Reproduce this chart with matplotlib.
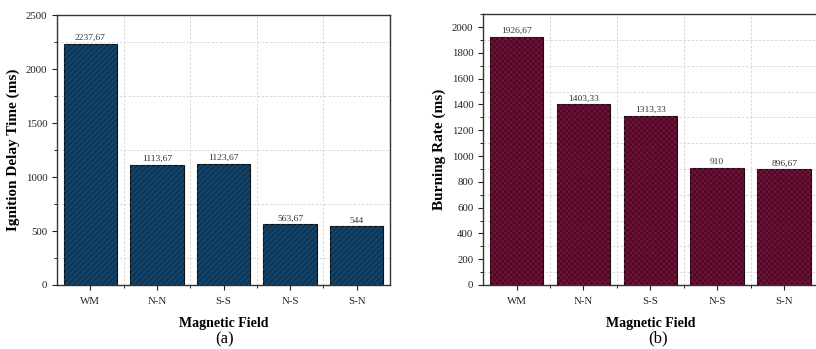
import matplotlib.pyplot as plt
from matplotlib.ticker import MultipleLocator, FixedLocator

fields = ['WM', 'N-N', 'S-S', 'N-S', 'S-N']
ignition = [2237.67, 1113.67, 1123.67, 563.67, 544]
ignition_txt = ['2237,67', '1113,67', '1123,67', '563,67', '544']
burning = [1926.67, 1403.33, 1313.33, 910, 896.67]
burning_txt = ['1926,67', '1403,33', '1313,33', '910', '896,67']

plt.rcParams['font.family'] = ['Liberation Serif', 'DejaVu Serif']
plt.rcParams['hatch.linewidth'] = 0.6

fig = plt.figure(figsize=(8.16, 3.49), dpi=100)


def panel(rect, vals, txt, fill, hatch_col, hatch, ylim, major, minor_grid, ylabel):
    ax = fig.add_axes(rect)
    x = range(len(fields))
    ax.bar(x, vals, width=0.8, color=fill, edgecolor='#111111', linewidth=0.8, zorder=2)
    ax.bar(x, vals, width=0.8, color='none', edgecolor=hatch_col, hatch=hatch,
           linewidth=0, zorder=3)
    for i, v in enumerate(vals):
        ax.text(i, v + ylim[1] * 0.006, txt[i], ha='center', va='bottom',
                fontsize=6.8, color='#333333', zorder=4)
    ax.set_xlim(-0.5, 4.5)
    ax.set_ylim(*ylim)
    ax.set_xticks(list(x))
    ax.set_xticklabels(fields)
    ax.xaxis.set_minor_locator(FixedLocator([0.5, 1.5, 2.5, 3.5]))
    ax.yaxis.set_major_locator(MultipleLocator(major))
    ax.yaxis.set_minor_locator(MultipleLocator(major / 2))
    for g in minor_grid:
        ax.axhline(g, color='#d4d4d4', lw=0.6, ls=(0, (3, 2)), zorder=0)
    for g in [0.5, 1.5, 2.5, 3.5]:
        ax.axvline(g, color='#d4d4d4', lw=0.6, ls=(0, (3, 2)), zorder=0)
    ax.tick_params(which='major', direction='out', length=3.5, width=0.8,
                   labelsize=7.8, colors='#222222', top=False, right=False)
    ax.tick_params(which='minor', direction='out', length=2, width=0.6,
                   top=False, right=False)
    ax.tick_params(axis='x', which='major', pad=5)
    for s in ax.spines.values():
        s.set_linewidth(1.0)
        s.set_color('#333333')
    ax.set_ylabel(ylabel, fontsize=11, fontweight='bold', labelpad=4)
    ax.set_xlabel('Magnetic Field', fontsize=10, fontweight='bold', labelpad=8)
    return ax


ax1 = panel([0.0699, 0.1834, 0.408, 0.773], ignition, ignition_txt, '#0b385c',
            '#22506f', '//////', (0, 2500), 500,
            [250, 750, 1250, 1750, 2250], 'Ignition Delay Time (ms)')
ax2 = panel([0.592, 0.1834, 0.41, 0.776], burning, burning_txt, '#550527',
            '#6d1a3c', 'xxxxxx', (0, 2100), 200,
            [100, 300, 500, 700, 900, 1100, 1300, 1500, 1700, 1900],
            'Burning Rate (ms)')

fig.text(0.275, 0.028, '(a)', ha='center', va='center', fontsize=12)
fig.text(0.806, 0.031, '(b)', ha='center', va='center', fontsize=12)

fig.savefig('out.png', dpi=100)
